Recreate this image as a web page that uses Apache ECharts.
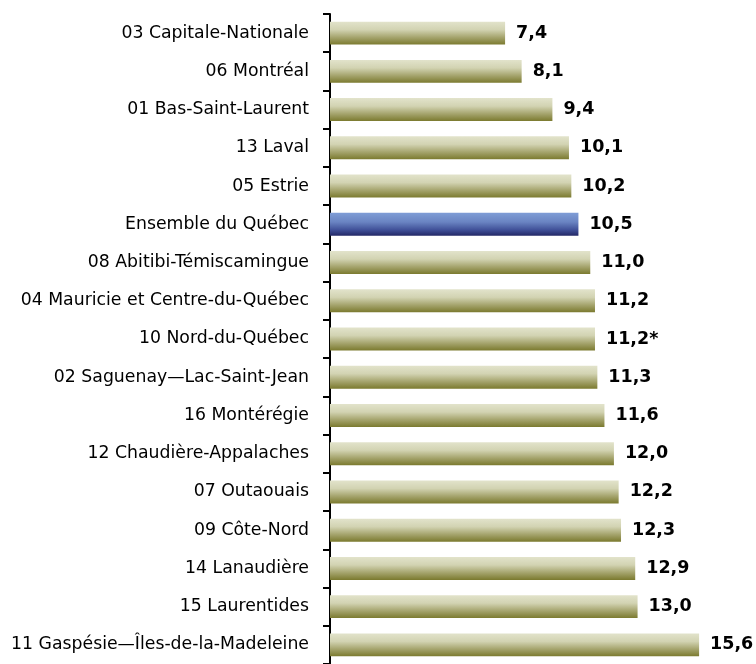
<!DOCTYPE html>
<html><head><meta charset="utf-8">
<script src="https://cdn.jsdelivr.net/npm/echarts@6/dist/echarts.min.js"></script>
<style>html,body{margin:0;padding:0;background:#fff}#c{width:756px;height:664px}</style>
</head><body><div id="c"></div>
<script>
const categories = ["03 Capitale-Nationale","06 Montréal","01 Bas-Saint-Laurent","13 Laval","05 Estrie","Ensemble du Québec","08 Abitibi-Témiscamingue","04 Mauricie et Centre-du-Québec","10 Nord-du-Québec","02 Saguenay—Lac-Saint-Jean","16 Montérégie","12 Chaudière-Appalaches","07 Outaouais","09 Côte-Nord","14 Lanaudière","15 Laurentides","11 Gaspésie—Îles-de-la-Madeleine"];
const values = [7.4,8.1,9.4,10.1,10.2,10.5,11.0,11.2,11.2,11.3,11.6,12.0,12.2,12.3,12.9,13.0,15.6];
const valueLabels = ["7,4","8,1","9,4","10,1","10,2","10,5","11,0","11,2","11,2*","11,3","11,6","12,0","12,2","12,3","12,9","13,0","15,6"];
const highlight = "Ensemble du Québec";

const olive = {type:'linear',x:0,y:0,x2:0,y2:1,colorStops:[{offset:0,color:'#e2e3cb'},{offset:0.35,color:'#d2d3b2'},{offset:0.7,color:'#a3a26a'},{offset:1,color:'#7b7a2f'}]};
const blue = {type:'linear',x:0,y:0,x2:0,y2:1,colorStops:[{offset:0,color:'#7f9dd6'},{offset:0.4,color:'#6a84c2'},{offset:0.75,color:'#3f4f97'},{offset:1,color:'#232866'}]};

const chart = echarts.init(document.getElementById('c'), null, {renderer:'canvas'});
chart.setOption({
  animation:false,
  grid:{left:330,top:14,width:18*23.66,height:651,containLabel:false},
  xAxis:{type:'value',min:0,max:18,show:false},
  yAxis:{type:'category',inverse:true,data:categories,
    axisLine:{show:true,lineStyle:{color:'#000',width:2}},
    axisTick:{show:true,length:7,lineStyle:{color:'#000',width:2}},
    axisLabel:{margin:21,color:'#000',fontFamily:'DejaVu Sans',fontSize:17.3}},
  series:[{type:'bar',barCategoryGap:'40%',
    data:values.map((v,i)=>({value:v,itemStyle:{color:categories[i]===highlight?blue:olive}})),
    label:{show:true,position:'right',distance:11,color:'#000',fontWeight:'bold',fontFamily:'DejaVu Sans',fontSize:17.5,
      formatter:p=>valueLabels[p.dataIndex]}}]
});
</script></body></html>
